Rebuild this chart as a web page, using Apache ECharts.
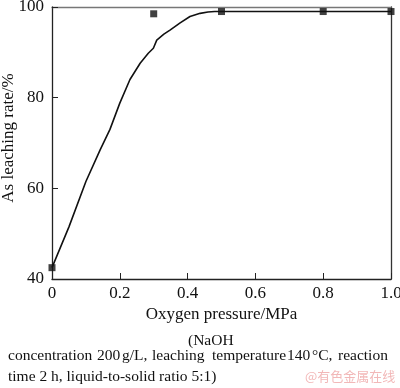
<!DOCTYPE html>
<html><head><meta charset="utf-8">
<script src="https://cdn.jsdelivr.net/npm/echarts@6/dist/echarts.min.js"></script>
<style>html,body{margin:0;padding:0;background:#fff}#c{width:400px;height:388px}</style>
</head><body><div id="c"></div>
<script>
const pointX = [0, 0.3, 0.5, 0.8, 1.0];
const pointY = [42.5, 98.5, 99, 99, 99];
const curveX = [0, 0.05, 0.1, 0.142, 0.171, 0.2, 0.23, 0.26, 0.284, 0.299, 0.309, 0.33, 0.348, 0.378, 0.407, 0.437, 0.46, 0.48, 0.5, 0.8, 1.0];
const curveY = [42.5, 51.5, 61.5, 68.5, 73, 78.8, 84, 87.6, 89.8, 90.9, 92.7, 94.0, 94.9, 96.5, 97.9, 98.6, 98.9, 99, 99, 99, 99];
const xTicks = [0, 0.2, 0.4, 0.6, 0.8, 1.0];
const yTicks = [40, 60, 80, 100];
const xName = 'Oxygen pressure/MPa';
const yName = 'As leaching rate/%';
const cap1 = '(NaOH';
const cap2Words = ['concentration', '200', 'g/L,', 'leaching', 'temperature', '140', '°C,', 'reaction'];
const cap2X = [8, 97, 122, 152, 212, 287, 312, 338];
const cap3 = 'time 2 h, liquid-to-solid ratio 5:1)';
const watermark = '@有色金属在线';

const F = 'Liberation Serif, Times New Roman, serif';
const chart = echarts.init(document.getElementById('c'));
const graphics = [
  {type:'text', left:188, top:333, style:{text:cap1, font:'15.5px '+F, fill:'#111'}},
  {type:'text', left:8, top:369, style:{text:cap3, font:'15.5px '+F, fill:'#111'}},
  {type:'text', left:305, top:370, style:{text:watermark, font:'13px Noto Sans CJK SC', fill:'#f2b8b8'}}
];
cap2Words.forEach((w,i)=>graphics.push({type:'text', left:cap2X[i], top:348, style:{text:w, font:'15.5px '+F, fill:'#111'}}));
chart.setOption({
  animation:false,
  grid:{left:52, right:9, top:7, bottom:109, outerBoundsMode:'none', containLabel:false},
  xAxis:[{type:'value', min:0, max:1, interval:0.2,
    axisLine:{lineStyle:{color:'#222', width:1.3}},
    axisTick:{inside:true, length:6, lineStyle:{color:'#222'}},
    axisLabel:{color:'#111', fontFamily:F, fontSize:17, margin:6, formatter:v=>v===0?'0':v.toFixed(1)},
    splitLine:{show:false},
    name:xName, nameLocation:'middle', nameGap:27, nameMoveOverlap:false, nameTextStyle:{color:'#111', fontFamily:F, fontSize:17}},
   {type:'value', position:'top', min:0, max:1, axisLine:{show:true, onZero:false, lineStyle:{color:'#777', width:1.3}}, axisTick:{show:false}, axisLabel:{show:false}, splitLine:{show:false}}],
  yAxis:[{type:'value', min:40, max:100, interval:20,
    axisLine:{show:true, lineStyle:{color:'#222', width:1.3}},
    axisTick:{show:true, inside:true, length:6, lineStyle:{color:'#222'}},
    axisLabel:{color:'#111', fontFamily:F, fontSize:17, margin:8},
    splitLine:{show:false},
    name:yName, nameLocation:'middle', nameGap:35, nameMoveOverlap:false, nameTextStyle:{color:'#111', fontFamily:F, fontSize:17, padding:[0,0,0,10]}},
   {type:'value', position:'right', min:40, max:100, axisLine:{show:true, onZero:false, lineStyle:{color:'#333', width:1.3}}, axisTick:{show:false}, axisLabel:{show:false}, splitLine:{show:false}}],
  series:[
    {type:'line', data:curveX.map((x,i)=>[x,curveY[i]]), showSymbol:false, smooth:false, lineStyle:{color:'#111', width:1.6}},
    {type:'scatter', data:pointX.map((x,i)=>[x,pointY[i]]), symbol:'rect', symbolSize:7, itemStyle:{color:'#111'}}
  ],
  graphic:graphics
});
</script></body></html>
